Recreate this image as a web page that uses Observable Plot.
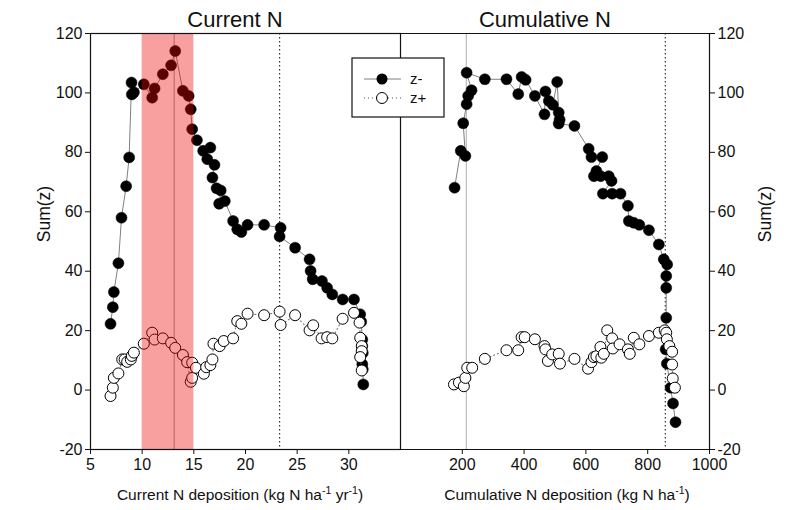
<!DOCTYPE html>
<html>
<head>
<meta charset="utf-8">
<script src="https://cdn.jsdelivr.net/npm/d3@7"></script>
<script src="https://cdn.jsdelivr.net/npm/@observablehq/plot@0.6"></script>
<style>
  body { margin: 0; background: #fff; }
  #chart { position: relative; width: 787px; height: 510px; font-family: "Liberation Sans", Arial, sans-serif; }
  #chart svg { position: absolute; top: 0; overflow: visible; }
</style>
</head>
<body>
<div id="chart"></div>
<script>
// Sum(z) against current N deposition (kg N ha-1 yr-1)
const curMinusX = [6.94, 7.16, 7.26, 7.7, 8.0, 8.45, 8.74, 8.97, 9.0, 9.2, 10.16, 10.97, 11.2, 12.0, 12.8, 13.2, 13.94, 14.5, 14.7, 14.84, 15.3, 15.9, 16.6, 16.3, 17.0, 16.8, 17.2, 17.6, 17.45, 18.0, 18.8, 19.2, 19.6, 20.2, 21.8, 23.4, 23.3, 24.8, 26.2, 26.3, 26.5, 27.4, 27.9, 28.4, 29.4, 30.5, 31.1, 31.2, 31.3, 31.3, 31.35, 31.3, 31.35, 31.4];
const curMinusY = [22.3, 27.9, 33.0, 42.7, 58.0, 68.6, 78.3, 103.5, 99.5, 100.2, 102.9, 98.4, 101.5, 106.3, 109.3, 114.1, 100.7, 99.0, 94.5, 87.8, 84.1, 80.5, 81.6, 77.7, 75.8, 71.5, 67.9, 67.2, 62.7, 63.6, 56.9, 54.1, 53.2, 55.6, 55.6, 54.6, 51.7, 47.9, 44.0, 40.1, 37.3, 36.7, 34.4, 32.2, 30.5, 30.5, 25.5, 23.0, 17.0, 14.8, 12.5, 8.7, 7.0, 1.9];
const curPlusX = [6.94, 7.16, 7.26, 7.7, 8.07, 8.3, 8.55, 8.9, 9.0, 9.2, 10.16, 10.97, 11.2, 12.0, 12.8, 13.2, 13.94, 14.35, 14.7, 14.84, 14.84, 15.2, 15.97, 16.2, 16.6, 16.8, 16.9, 17.5, 17.9, 18.8, 19.2, 19.6, 20.2, 21.8, 23.3, 23.4, 24.8, 26.2, 26.55, 27.36, 27.9, 28.4, 29.4, 30.5, 31.04, 31.1, 31.25, 31.25, 31.1, 31.25];
const curPlusY = [-2.0, 0.8, 4.1, 5.6, 10.3, 10.3, 9.5, 10.3, 11.5, 12.6, 15.6, 19.3, 17.0, 17.4, 15.9, 14.2, 11.8, 9.4, 2.8, 4.1, 9.2, 7.5, 5.5, 7.7, 8.4, 10.3, 15.6, 14.8, 16.5, 17.4, 23.2, 22.3, 25.7, 25.2, 26.4, 21.9, 25.2, 20.1, 21.8, 17.4, 17.8, 17.4, 24.0, 26.0, 22.7, 17.6, 14.8, 13.1, 11.1, 6.6];

// Sum(z) against cumulative N deposition (kg N ha-1)
const cumMinusX = [175, 195, 210, 203, 214, 219, 230, 214, 273, 343, 381, 392, 405, 435, 466, 469, 480, 493, 507, 512, 515, 512, 563, 609, 618, 653, 626, 634, 648, 674, 683, 655, 685, 712, 736, 739, 755, 773, 804, 836, 852, 863, 860, 860, 860, 858, 862, 874, 882, 890];
const cumMinusY = [68.1, 80.5, 78.8, 89.8, 96.2, 99.0, 100.9, 106.8, 104.6, 104.6, 99.6, 105.4, 104.4, 99.0, 92.8, 100.5, 97.3, 96.0, 103.7, 93.4, 91.0, 89.7, 88.9, 81.2, 78.4, 78.4, 72.0, 73.7, 72.0, 72.0, 70.4, 66.1, 66.1, 66.1, 62.0, 56.9, 56.3, 55.6, 53.8, 49.0, 44.0, 42.3, 38.4, 34.4, 24.3, 13.7, 8.9, 0.8, -4.5, -10.8];
const cumPlusX = [173, 189, 205, 210, 216, 232, 273, 343, 381, 392, 402, 435, 466, 469, 477, 491, 512, 516, 563, 607, 618, 626, 634, 647, 650, 658, 669, 685, 687, 709, 736, 742, 755, 773, 804, 836, 855, 860, 862, 870, 879, 879, 881, 888];
const cumPlusY = [1.9, 2.5, 1.3, 4.1, 7.5, 7.5, 10.5, 13.4, 13.4, 17.8, 17.8, 17.1, 14.8, 13.7, 9.8, 12.0, 12.2, 8.9, 10.5, 7.2, 9.4, 11.1, 11.4, 14.5, 10.9, 12.2, 20.1, 17.4, 14.0, 15.4, 13.7, 12.2, 17.6, 15.4, 18.2, 19.3, 20.1, 19.3, 17.1, 14.8, 12.9, 8.6, 3.9, 0.8];

// Threshold markers and highlighted range
const curSolidLine = [13.1];
const curDottedLine = [23.3];
const curBand = [{x1: 10, x2: 15, y1: -20, y2: 120}];
const cumSolidLine = [213];
const cumDottedLine = [857];

const yTicks = [-20, 0, 20, 40, 60, 80, 100, 120];
const curTicks = [5, 10, 15, 20, 25, 30];
const cumTicks = [200, 400, 600, 800, 1000];

const zip = (xs, ys) => xs.map((x, i) => ({x, y: ys[i]}));
const curMinus = zip(curMinusX, curMinusY);
const curPlus = zip(curPlusX, curPlusY);
const cumMinus = zip(cumMinusX, cumMinusY);
const cumPlus = zip(cumPlusX, cumPlusY);

const FONT = "'Liberation Sans', Arial, sans-serif";
const H = 510, TOP = 33, BOTTOM = 61;
const R = 5.5;
const plain = (d) => String(d);

function seriesMarks(minus, plus) {
  return [
    Plot.line(minus, {x: "x", y: "y", stroke: "#808080", strokeWidth: 1}),
    Plot.dot(minus, {x: "x", y: "y", r: R, fill: "black", stroke: "black", strokeWidth: 0.5}),
    Plot.line(plus, {x: "x", y: "y", stroke: "#808080", strokeWidth: 1.2, strokeDasharray: "1,3"}),
    Plot.dot(plus, {x: "x", y: "y", r: R, fill: "white", stroke: "black", strokeWidth: 1})
  ];
}

const baseStyle = {fontFamily: FONT, fontSize: "16px", color: "#111", background: "transparent", overflow: "visible"};

const left = Plot.plot({
  width: 400, height: H,
  marginLeft: 90, marginRight: 0, marginTop: TOP, marginBottom: BOTTOM,
  style: baseStyle,
  x: {domain: [5, 35]},
  y: {domain: [-20, 120]},
  marks: [
    Plot.ruleX(curSolidLine, {stroke: "#999", strokeWidth: 1}),
    Plot.ruleX(curDottedLine, {stroke: "#333", strokeWidth: 1.2, strokeDasharray: "1.5,2.5"}),
    ...seriesMarks(curMinus, curPlus),
    Plot.rect(curBand, {x1: "x1", x2: "x2", y1: "y1", y2: "y2", fill: "rgb(237,5,5)", fillOpacity: 0.38}),
    Plot.frame({stroke: "#111", strokeWidth: 1.2}),
    Plot.axisX({ticks: curTicks, tickFormat: plain, tickSize: 5, tickPadding: 4, label: null}),
    Plot.axisY({ticks: yTicks, tickFormat: plain, tickSize: 5, tickPadding: 3, label: null})
  ]
});

const right = Plot.plot({
  width: 387, height: H,
  marginLeft: 0, marginRight: 78, marginTop: TOP, marginBottom: BOTTOM,
  style: baseStyle,
  x: {domain: [0, 1000]},
  y: {domain: [-20, 120]},
  marks: [
    Plot.ruleX(cumSolidLine, {stroke: "#bbb", strokeWidth: 1.2}),
    Plot.ruleX(cumDottedLine, {stroke: "#333", strokeWidth: 1.2, strokeDasharray: "1.5,2.5"}),
    ...seriesMarks(cumMinus, cumPlus),
    Plot.ruleY([120, -20], {stroke: "#111", strokeWidth: 1.2}),
    Plot.ruleX([1000], {stroke: "#111", strokeWidth: 1.2}),
    Plot.axisX({ticks: cumTicks, tickFormat: plain, tickSize: 5, tickPadding: 4, label: null}),
    Plot.axisY({ticks: yTicks, tickFormat: plain, anchor: "right", tickSize: 5, tickPadding: 3, label: null})
  ]
});

const chart = document.getElementById("chart");
left.style.left = "0px";
right.style.left = "400px";
chart.appendChild(left);
chart.appendChild(right);

// Titles and axis labels; {sup: "..."} parts are raised as superscripts
function addText(svg, x, y, parts, size, rotate) {
  const t = d3.select(svg).append("text")
    .attr("text-anchor", "middle")
    .attr("font-family", FONT)
    .attr("font-size", size)
    .attr("fill", "#111");
  if (rotate) t.attr("transform", `translate(${x},${y}) rotate(-90)`);
  else t.attr("x", x).attr("y", y);
  let shift = 0;
  for (const p of parts) {
    if (typeof p === "string") {
      t.append("tspan").attr("dy", -shift).text(p);
      shift = 0;
    } else {
      const up = -Math.round(size * 0.4);
      t.append("tspan").attr("dy", up - shift).attr("font-size", size * 0.68).text(p.sup);
      shift = up;
    }
  }
  return t;
}

addText(left, 235, 27, ["Current N"], 22);
addText(right, 145, 27, ["Cumulative N"], 22);
addText(left, 240, 500, ["Current N deposition (kg N ha", {sup: "-1"}, " yr", {sup: "-1"}, ")"], 15.5);
addText(right, 167, 500, ["Cumulative N deposition (kg N ha", {sup: "-1"}, ")"], 15.5);
addText(left, 50, 214, ["Sum(z)"], 17.5, true);
addText(right, 371, 214, ["Sum(z)"], 17.5, true);

// Legend box
const lg = d3.select(chart).append("svg")
  .attr("width", 94).attr("height", 61)
  .style("left", "351px").style("top", "57px");
lg.append("rect").attr("x", 1).attr("y", 1).attr("width", 92).attr("height", 59)
  .attr("fill", "white").attr("stroke", "#111").attr("stroke-width", 1.2);
lg.append("line").attr("x1", 13).attr("x2", 50).attr("y1", 22).attr("y2", 22)
  .attr("stroke", "#808080");
lg.append("circle").attr("cx", 31).attr("cy", 22).attr("r", R).attr("fill", "black");
lg.append("line").attr("x1", 13).attr("x2", 50).attr("y1", 41).attr("y2", 41)
  .attr("stroke", "#555").attr("stroke-width", 1.2).attr("stroke-dasharray", "1,3");
lg.append("circle").attr("cx", 31).attr("cy", 41).attr("r", R).attr("fill", "white").attr("stroke", "black");
lg.append("text").attr("x", 59).attr("y", 27).attr("font-family", FONT).attr("font-size", 15).attr("fill", "#111").text("z-");
lg.append("text").attr("x", 59).attr("y", 46).attr("font-family", FONT).attr("font-size", 15).attr("fill", "#111").text("z+");
</script>
</body>
</html>
